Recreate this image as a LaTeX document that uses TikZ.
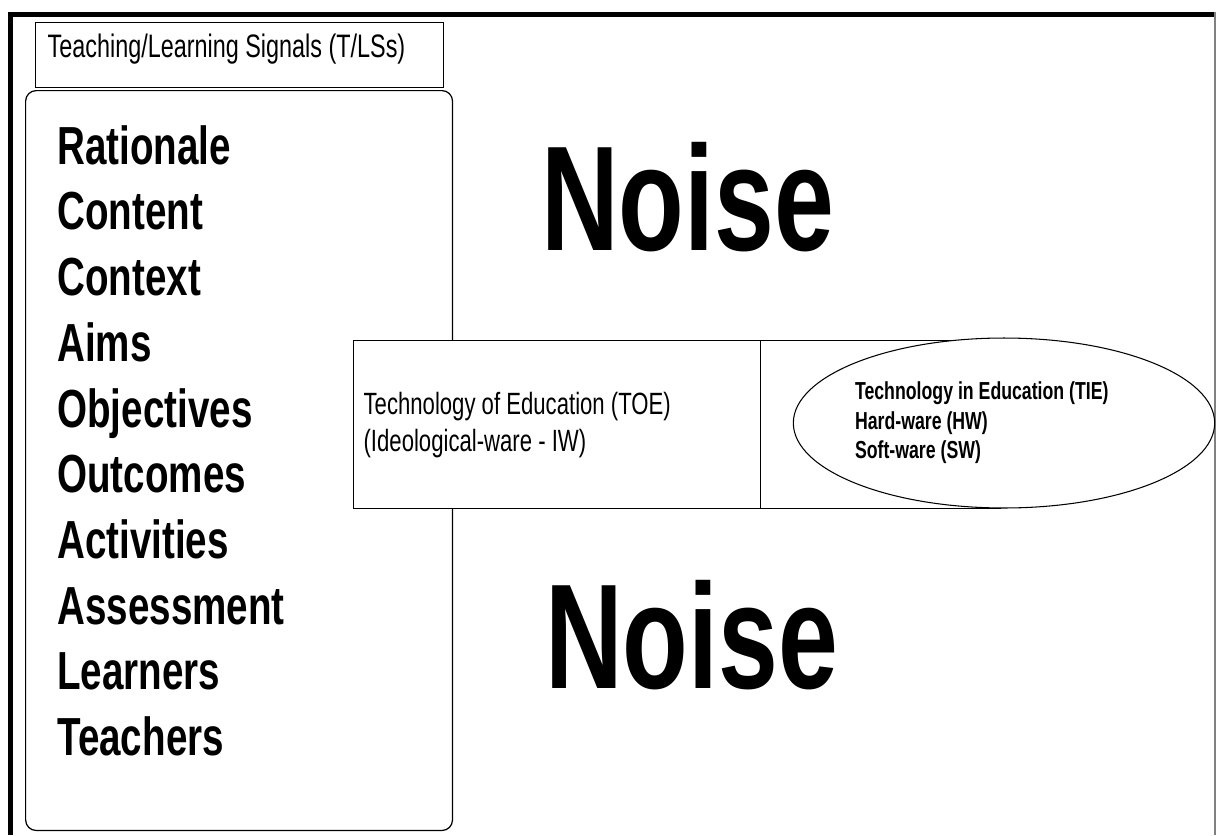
\documentclass[tikz,border=0pt]{standalone}
\usepackage{fontspec}
\setmainfont{Liberation Sans}[FakeStretch=0.72]
\usepackage{tikz}
\usetikzlibrary{shapes,positioning}
\tikzstyle{Box} = [rectangle, draw=black, line width=0.7pt, inner sep=0pt]
\tikzstyle{Bubble} = [ellipse, draw=black, line width=0.6pt, fill=white, inner sep=0pt]
\tikzstyle{frameline} = [line width=2.9pt, black]
\newcommand{\tightspace}{\spaceskip=0.2em plus 0.05em\relax}

\begin{document}
\begin{tikzpicture}[x=0.02cm, y=-0.02cm, every text node part/.style={align=flush left}]
\useasboundingbox (0,0) rectangle (1216,835);
% outer frame of the screenshot
\draw[frameline] (10.5,835) -- (10.5,14.5) -- (1216,14.5);
\draw[gray, line width=0.8pt] (1215,12) -- (1215,835);

\node (Signals Title)[Box, anchor=north west, minimum width=8.16cm, inner xsep=0.24cm,
  text width=7.68cm, text height=0.69cm, text depth=0.61cm,
  font=\fontsize{18.5}{22}\selectfont\tightspace] at (35,22) {Teaching/Learning Signals (T/LSs)};
\node (Signals Frame)[Box, rounded corners=6pt, anchor=north west, minimum width=8.54cm,
  minimum height=14.8cm] at (25,90) {};
\node (Signals List)[anchor=north west, inner sep=0pt,
  font=\bfseries\fontsize{30.5}{37.4}\selectfont] at (57,125) {Rationale \\
Content \\
Context \\
Aims \\
Objectives \\
Outcomes \\
Activities \\
Assessment \\
Learners \\
Teachers
};

\node (Noise Top)[anchor=base west, inner sep=0pt, font=\bfseries\fontsize{85}{85}\selectfont] at (541,250) {Noise};
\node (Noise Bottom)[anchor=base west, inner sep=0pt, font=\bfseries\fontsize{85}{85}\selectfont] at (545,688) {Noise};

\node (Technology of Education)[Box, fill=white, anchor=north west, minimum width=8.14cm,
  minimum height=3.36cm, inner xsep=0.2cm, text width=7.74cm,
  font=\fontsize{17.5}{21}\selectfont\tightspace] at (353,340) {Technology of Education (TOE) \\
(Ideological-ware - IW)
};
\node (Technology Box)[Box, fill=white, anchor=north west, minimum width=4.8cm,
  minimum height=3.36cm] at (760,340) {};
\node (Technology in Education)[Bubble, minimum width=8.14cm, minimum height=3.4cm,
  text width=5.96cm, font=\bfseries\fontsize{14}{16.8}\selectfont\tightspace] at (1004,423) {Technology in Education (TIE) \\
Hard-ware (HW) \\
Soft-ware (SW)
};

\end{tikzpicture}
\end{document}
